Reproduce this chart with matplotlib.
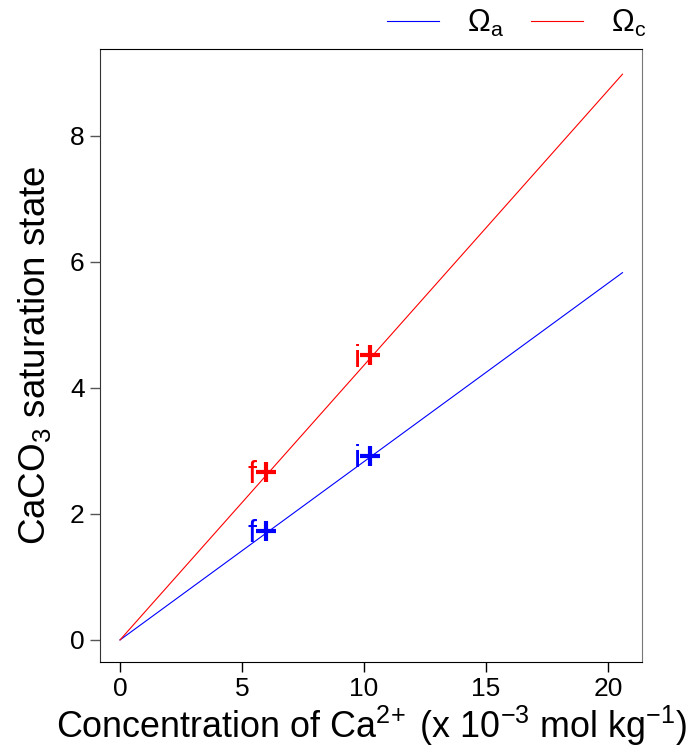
import matplotlib
matplotlib.use("Agg")
import matplotlib.pyplot as plt

plt.rcParams['font.family'] = ['Liberation Sans', 'DejaVu Sans']
plt.rcParams['mathtext.fontset'] = 'custom'
plt.rcParams['mathtext.rm'] = 'Liberation Sans'
plt.rcParams['mathtext.it'] = 'Liberation Sans'

# data
ca = [0, 20.6]
omega_a = [0, 5.83]
omega_c = [0, 8.98]
pts_x = [10.25, 5.98]
pts_a = [2.92, 1.73]
pts_c = [4.52, 2.67]
pts_lab = ['i', 'f']

fig = plt.figure(figsize=(6.88, 7.49), dpi=100)
ax = fig.add_axes([100/688, 87/749, 542/688, 613/749])

la, = ax.plot(ca, omega_a, color='blue', lw=0.8)
lc, = ax.plot(ca, omega_c, color='red', lw=0.8)

for x, ya, yc, lab in zip(pts_x, pts_a, pts_c, pts_lab):
    ax.plot(x, ya, marker='+', color='blue', ms=14, mew=3, zorder=3)
    ax.plot(x, yc, marker='+', color='red', ms=14, mew=3, zorder=3)
    ax.annotate(lab, (x, ya), xytext=(-6.5, 0), textcoords='offset points',
                color='blue', fontsize=23, ha='right', va='center_baseline', zorder=5)
    ax.annotate(lab, (x, yc), xytext=(-6.5, 0), textcoords='offset points',
                color='red', fontsize=23, ha='right', va='center_baseline', zorder=5)

ax.set_xlim(-0.82, 21.4)
ax.set_ylim(-0.35, 9.38)
ax.set_xticks([0, 5, 10, 15, 20])
ax.set_yticks([0, 2, 4, 6, 8])
ax.tick_params(labelsize=19, length=7, width=1, pad=4)
ax.tick_params(axis='y', colors='#555555', labelcolor='black')
ax.set_xlabel(r'Concentration of Ca$^{2\!+}$ (x 10$^{-3}$ mol kg$^{-1}$)', fontsize=25.8, labelpad=2)
ax.set_ylabel(r'CaCO$_3$ saturation state', fontsize=26.5, labelpad=12)
ax.spines['right'].set_color('#777777')
ax.spines['left'].set_color('#333333')

fig.legend([la, lc], [r'$\Omega_\mathrm{a}$', r'$\Omega_\mathrm{c}$'], ncol=2,
           loc='center right', bbox_to_anchor=(646/688, 1 - 23/749), frameon=False,
           fontsize=22, handlelength=1.7, columnspacing=0.9, handletextpad=0.9,
           borderaxespad=0, borderpad=0)

fig.savefig('out.png', dpi=100)
